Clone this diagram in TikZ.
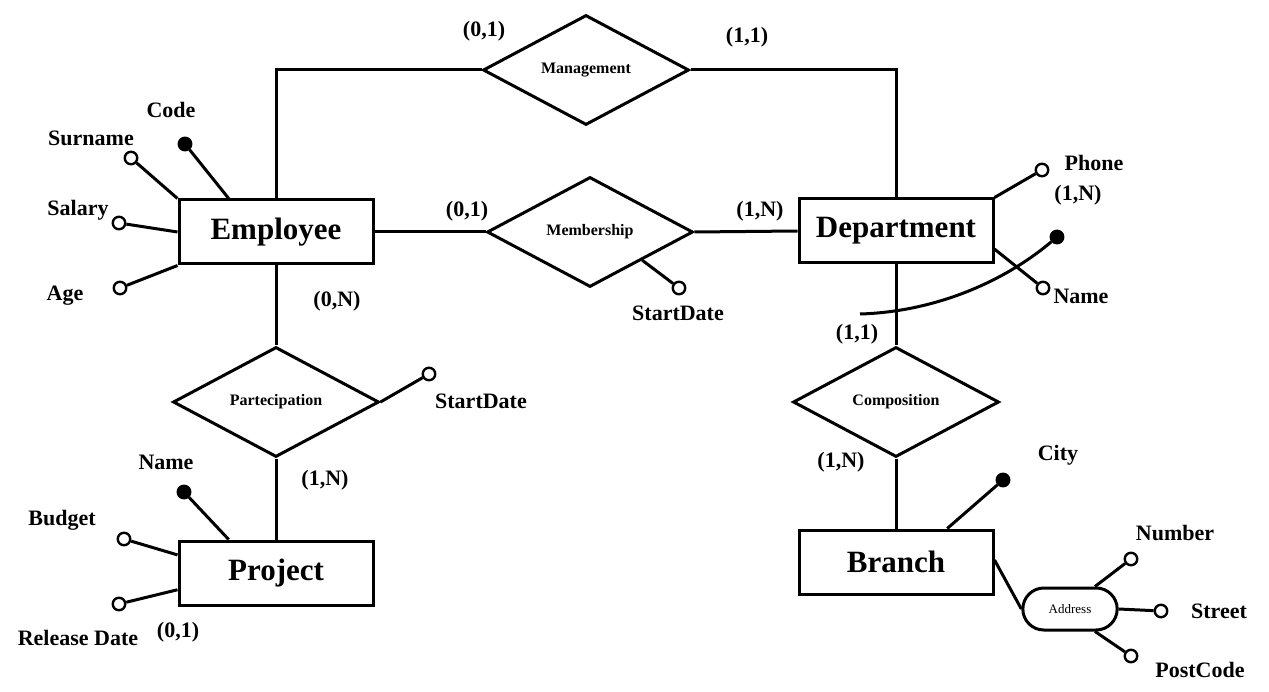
\documentclass[tikz,border=0pt]{standalone}
\usepackage{fontspec}
\setmainfont{Liberation Serif}
\usetikzlibrary{calc,shapes.geometric,shapes.misc}

\tikzset{
  entity/.style={draw,rectangle,minimum width=194pt,minimum height=64pt,
    font=\fontsize{31}{31}\selectfont\bfseries},
  relation/.style={draw,diamond,aspect=1.87,minimum width=206pt,minimum height=110pt,
    inner sep=0pt,font=\fontsize{16}{16}\selectfont\bfseries},
  attr/.style={draw,circle,fill=white,minimum size=12.5pt,inner sep=0pt,line width=2.4pt},
  keyattr/.style={attr,fill=black},
  lbl/.style={font=\fontsize{22}{22}\selectfont\bfseries,inner sep=0pt},
}

\begin{document}
\begin{tikzpicture}[x=1pt,y=-1pt,line width=3pt]
    \useasboundingbox (0,0) rectangle (1269,692);

    % Entita'
    \node[entity] (emp)  at (276,232) {Employee};
    \node[entity] (dep)  at (896,231) {Department};
    \node[entity] (proj) at (276,573) {Project};
    \node[entity] (br)   at (896,562) {Branch};

    % Relazioni
    \node[relation] (mgmt) at (586,70)  {Management};
    \node[relation] (mem)  at (590,232) {Membership};
    \node[relation] (part) at (276,402) {Partecipation};
    \node[relation] (comp) at (896,402) {Composition};

    % Attributo composto
    \node[draw,rounded rectangle,minimum width=101pt,minimum height=42pt,
      font=\fontsize{13}{13}\selectfont] (addr) at (1070,609) {Address};

    % Collegamenti
    \draw (emp.north) |- (mgmt.west);
    \draw (mgmt.east) -| (dep.north);
    \draw (emp.east) -- (mem.west);
    \draw (mem.east) -- (dep.west);
    \draw (emp.south) -- (part.north);
    \draw (part.south) -- (proj.north);
    \draw (dep.south) -- (comp.north);
    \draw (comp.south) -- (br.north);
    \draw ($(br.north east)!0.47!(br.south east)$) -- (addr.west);

    % Attributi
    \node[keyattr] (code)    at (185,144) {};
    \node[attr]    (surname) at (131,158) {};
    \node[attr]    (salary)  at (119,223) {};
    \node[attr]    (age)     at (120,288) {};
    \node[attr]    (msd)     at (679,288) {};
    \node[attr]    (phone)   at (1042,170) {};
    \node[attr]    (dname)   at (1043,288) {};
    \node[keyattr] (dkey)    at (1057,237) {};
    \node[attr]    (psd)     at (429,374) {};
    \node[keyattr] (pname)   at (184,492) {};
    \node[attr]    (budget)  at (124,539) {};
    \node[attr]    (release) at (119,604) {};
    \node[keyattr] (city)    at (1003,480) {};
    \node[attr]    (number)  at (1131,559) {};
    \node[attr]    (street)  at (1161,611) {};
    \node[attr]    (postcode) at (1131,656) {};

    \draw (code) -- ($(emp.north west)!0.26!(emp.north east)$);
    \draw (surname) -- (emp.north west);
    \draw (salary) -- (emp.west);
    \draw (age) -- (emp.south west);
    \draw (msd) -- ($(mem.east)!0.5!(mem.south)$);
    \draw (phone) -- (dep.north east);
    \draw (dname) -- ($(dep.north east)!0.77!(dep.south east)$);
    \draw (psd) -- (part.east);
    \draw (pname) -- ($(proj.north west)!0.26!(proj.north east)$);
    \draw (budget) -- ($(proj.north west)!0.23!(proj.south west)$);
    \draw (release) -- ($(proj.north west)!0.75!(proj.south west)$);
    \draw (city) -- ($(br.north west)!0.76!(br.north east)$);
    \draw (number) -- ($(addr.north)+(25,0)$);
    \draw (street) -- (addr.east);
    \draw (postcode) -- ($(addr.south)+(25,0)$);

    % Identificatore esterno di Branch
    \coordinate (arcstart) at (860,314);
    \draw (arcstart) .. controls (930,312) and (1000,285) .. (dkey);

    % Nomi degli attributi
    \node[lbl] (lcode)    at (171,110) {Code};
    \node[lbl] (lsurname) at (91,138)  {Surname};
    \node[lbl] (lsalary)  at (78,210)  {Salary};
    \node[lbl] (lage)     at (65,296)  {Age};
    \node[lbl] (lmsd)     at (678,313) {StartDate};
    \node[lbl] (lphone)   at (1094,163) {Phone};
    \node[lbl] (ldname)   at (1081,296) {Name};
    \node[lbl] (lpsd)     at (481,401) {StartDate};
    \node[lbl] (lpname)   at (166,462) {Name};
    \node[lbl] (lbudget)  at (62,520)  {Budget};
    \node[lbl] (lrelease) at (78,638)  {Release Date};
    \node[lbl] (lcity)    at (1058,455) {City};
    \node[lbl] (lnumber)  at (1175,533) {Number};
    \node[lbl] (lstreet)  at (1219,611) {Street};
    \node[lbl] (lpostcode) at (1200,670) {PostCode};

    % Cardinalita'
    \node[lbl] (c1)  at (484,31)  {(0,1)};
    \node[lbl] (c2)  at (747,37)  {(1,1)};
    \node[lbl] (c3)  at (467,211) {(0,1)};
    \node[lbl] (c4)  at (760,211) {(1,N)};
    \node[lbl] (c5)  at (337,301) {(0,N)};
    \node[lbl] (c6)  at (325,480) {(1,N)};
    \node[lbl] (c7)  at (857,334) {(1,1)};
    \node[lbl] (c8)  at (841,462) {(1,N)};
    \node[lbl] (c9)  at (1078,195) {(1,N)};
    \node[lbl] (c10) at (178,632) {(0,1)};
\end{tikzpicture}
\end{document}
